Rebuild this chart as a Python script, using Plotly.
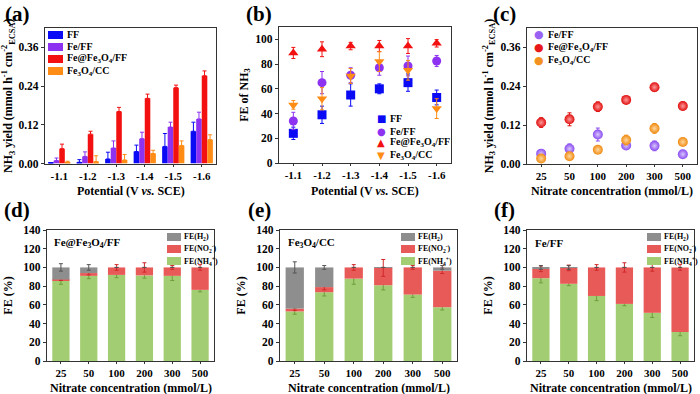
import plotly.graph_objects as go

W, H = 700, 394
def px(x): return x / W
def py(y): return 1 - y / H

potentials = ["-1.1", "-1.2", "-1.3", "-1.4", "-1.5", "-1.6"]
concentrations = ["25", "50", "100", "200", "300", "500"]

# (a) NH3 yield vs potential
yield_FF = [0.002, 0.004, 0.014, 0.037, 0.053, 0.100]
yield_FF_err = [0.000, 0.008, 0.021, 0.020, 0.040, 0.028]
yield_FeFF = [0.009, 0.022, 0.048, 0.077, 0.113, 0.138]
yield_FeFF_err = [0.008, 0.014, 0.022, 0.020, 0.015, 0.021]
yield_FeFe3O4 = [0.046, 0.091, 0.161, 0.202, 0.235, 0.272]
yield_FeFe3O4_err = [0.014, 0.009, 0.013, 0.013, 0.008, 0.015]
yield_Fe3O4CC = [0.004, 0.006, 0.011, 0.031, 0.056, 0.074]
yield_Fe3O4CC_err = [0.003, 0.018, 0.017, 0.010, 0.014, 0.015]

# (b) FE of NH3 vs potential
fe_FF = [24, 39, 55, 60, 65, 53]
fe_FF_err = [5, 7, 9, 4, 7, 6]
fe_FeFF = [34, 65, 71, 77, 78.5, 82.5]
fe_FeFF_err = [7, 9, 6, 6, 8, 4.5]
fe_FeFe3O4 = [89, 92, 94.6, 94.6, 94.6, 96.8]
fe_FeFe3O4_err = [4.5, 6, 3, 4.5, 6, 3]
fe_Fe3O4CC = [47, 52, 70.4, 82, 75, 44]
fe_Fe3O4CC_err = [3.5, 9, 6, 8, 8, 8]

# (c) NH3 yield vs nitrate concentration
cy_FeFF = [0.032, 0.047, 0.091, 0.057, 0.056, 0.030]
cy_FeFF_err = [0.010, 0.015, 0.020, 0.010, 0.015, 0.006]
cy_FeFe3O4 = [0.128, 0.138, 0.177, 0.198, 0.237, 0.179]
cy_FeFe3O4_err = [0.015, 0.020, 0.015, 0.010, 0.012, 0.012]
cy_Fe3O4CC = [0.017, 0.024, 0.044, 0.074, 0.110, 0.068]
cy_Fe3O4CC_err = [0.010, 0.010, 0.010, 0.015, 0.015, 0.008]

# (d) Fe@Fe3O4/FF FE distribution
d_NH4 = [86, 91, 92, 91.5, 91, 76]
d_NH4_err = [4, 3, 3, 3, 5, 2]
d_NO2 = [1, 3, 8, 8.5, 9, 24]
d_NO2_err = [1, 2, 3, 5, 2, 3]
d_H2 = [13, 6, 0, 0, 0, 0]
d_H2_err = [4, 3, 0, 0, 0, 0]

# (e) Fe3O4/CC FE distribution
e_NH4 = [53, 73.5, 88, 81, 71, 57.5]
e_NH4_err = [3, 4, 6, 5, 3, 3]
e_NO2 = [3, 5.5, 12, 18.5, 29, 39]
e_NO2_err = [2, 3, 3, 9, 2, 3]
e_H2 = [44, 21, 0, 0.5, 0, 3.5]
e_H2_err = [6, 2, 0, 0, 0, 2]

# (f) Fe/FF FE distribution
f_NH4 = [88.5, 82.5, 69.5, 61, 51.5, 31]
f_NH4_err = [5, 2, 5, 2, 5, 4]
f_NO2 = [10, 17, 30.5, 39, 48.5, 69]
f_NO2_err = [3, 3, 3, 5, 4, 3]
f_H2 = [1.5, 0.5, 0, 0, 0, 0]
f_H2_err = [2, 2, 0, 0, 0, 0]

BLUE = "#0A0AF5"
PURPLE = "#8C32F0"
RED = "#F21010"
ORANGE = "#FF8C14"
GREEN = "#A3CD72"
LRED = "#E85A58"
GRAY = "#8E8E8E"
SERIF = "Liberation Serif"

fig = go.Figure()

# ---------- (a) grouped bars ----------
for name, vals, err, col in [
    ("FF", yield_FF, yield_FF_err, BLUE),
    ("Fe/FF", yield_FeFF, yield_FeFF_err, PURPLE),
    ("Fe@Fe3O4/FF", yield_FeFe3O4, yield_FeFe3O4_err, RED),
    ("Fe3O4/CC", yield_Fe3O4CC, yield_Fe3O4CC_err, ORANGE),
]:
    fig.add_trace(go.Bar(
        x=potentials, y=vals, name=name, marker=dict(color=col, line=dict(width=0)),
        error_y=dict(type="data", array=err, arrayminus=[0] * len(err), symmetric=False,
                     color=col, thickness=1, width=2),
        xaxis="x", yaxis="y", showlegend=False))

# ---------- (b) scatter ----------
for name, vals, err, col, sym in [
    ("FF", fe_FF, fe_FF_err, BLUE, "square"),
    ("Fe/FF", fe_FeFF, fe_FeFF_err, PURPLE, "circle"),
    ("Fe@Fe3O4/FF", fe_FeFe3O4, fe_FeFe3O4_err, RED, "triangle-up"),
    ("Fe3O4/CC", fe_Fe3O4CC, fe_Fe3O4CC_err, ORANGE, "triangle-down"),
]:
    fig.add_trace(go.Scatter(
        x=potentials, y=vals, mode="markers", name=name,
        marker=dict(color=col, symbol=sym, size=9, line=dict(width=0)),
        error_y=dict(type="data", array=err, color=col, thickness=1, width=2),
        xaxis="x2", yaxis="y2", showlegend=False))

# ---------- (c) scatter spheres ----------
for name, vals, err, col, hi in [
    ("Fe/FF", cy_FeFF, cy_FeFF_err, "#8A4CF0", "#D9C8FF"),
    ("Fe@Fe3O4/FF", cy_FeFe3O4, cy_FeFe3O4_err, "#E00E0E", "#FF9A9A"),
    ("Fe3O4/CC", cy_Fe3O4CC, cy_Fe3O4CC_err, "#F08A10", "#FFD8A0"),
]:
    fig.add_trace(go.Scatter(
        x=concentrations, y=vals, mode="markers", name=name,
        marker=dict(color=col, symbol="circle", size=10, line=dict(width=0),
                    gradient=dict(type="radial", color=hi)),
        error_y=dict(type="data", array=err, color=col, thickness=1, width=2),
        xaxis="x3", yaxis="y3", showlegend=False))

# ---------- (d)-(f) stacked bars ----------
def add_stack(nh4, nh4e, no2, no2e, h2, h2e, xa, ya, grp):
    base_no2 = [a for a in nh4]
    base_h2 = [a + b for a, b in zip(nh4, no2)]
    for name, vals, err, base, col, ecol in [
        ("FE(NH4+)", nh4, nh4e, [0] * len(nh4), GREEN, "#6E9E3C"),
        ("FE(NO2-)", no2, no2e, base_no2, LRED, "#D02828"),
        ("FE(H2)", h2, h2e, base_h2, GRAY, "#555555"),
    ]:
        fig.add_trace(go.Bar(
            x=concentrations, y=vals, base=base, name=name, offsetgroup=grp, width=0.62,
            marker=dict(color=col, line=dict(width=0)),
            error_y=dict(type="data", array=err, color=ecol, thickness=1, width=2),
            xaxis=xa, yaxis=ya, showlegend=False))

add_stack(d_NH4, d_NH4_err, d_NO2, d_NO2_err, d_H2, d_H2_err, "x4", "y4", "d")
add_stack(e_NH4, e_NH4_err, e_NO2, e_NO2_err, e_H2, e_H2_err, "x5", "y5", "e")
add_stack(f_NH4, f_NH4_err, f_NO2, f_NO2_err, f_H2, f_H2_err, "x6", "y6", "f")

# ---------- axes ----------
ytickfont = dict(family=SERIF, size=11.5, color="black", weight="bold")
xtickfont = dict(family=SERIF, size=11, color="black", weight="bold")
titlefont = dict(family=SERIF, size=12, color="black", weight="bold")

def xax(x0, x1, y_anchor):
    return dict(domain=[px(x0), px(x1)], anchor=y_anchor, type="category",
                range=[-0.5, 5.5], showline=True, mirror=True, linecolor="#333",
                linewidth=1.3, ticks="outside", ticklen=2, tickcolor="#333",
                tickfont=xtickfont, showgrid=False, zeroline=False, automargin=False)

def yax(y0, y1, x_anchor, title, rng, dtick, fmt, standoff=4):
    return dict(domain=[py(y1), py(y0)], anchor=x_anchor, range=rng, dtick=dtick,
                tickformat=fmt, showline=True, mirror=True, linecolor="#333",
                linewidth=1.3, ticks="outside", ticklen=3, tickcolor="#333",
                tickfont=ytickfont, showgrid=False, zeroline=False, automargin=False,
                title=dict(text=title, font=titlefont, standoff=standoff))

yield_title = "NH<sub>3</sub> yield (mmol h<sup>-1</sup> cm<sup>-2</sup><sub>ECSA</sub>)"
pot_title = "Potential (V <i>vs.</i> SCE)"
conc_title = "Nitrate concentration (mmol/L)"

panels_x = [(45, 216), (279, 451), (527, 697), (47, 214), (280, 457), (527, 694)]

layout_axes = dict(
    xaxis=xax(*panels_x[0], "y"),
    yaxis=yax(28, 163.5, "x", yield_title, [0, 0.42], 0.12, ".2f"),
    xaxis2=xax(*panels_x[1], "y2"),
    yaxis2=yax(27, 163, "x2", "FE of NH<sub>3</sub>", [0, 110], 20, "d"),
    xaxis3=xax(*panels_x[2], "y3"),
    yaxis3=yax(28, 164, "x3", yield_title, [0, 0.42], 0.12, ".2f"),
    xaxis4=xax(*panels_x[3], "y4"),
    yaxis4=yax(230, 361, "x4", "FE (%)", [0, 140], 20, "d", 8),
    xaxis5=xax(*panels_x[4], "y5"),
    yaxis5=yax(230, 361, "x5", "FE (%)", [0, 140], 20, "d", 8),
    xaxis6=xax(*panels_x[5], "y6"),
    yaxis6=yax(230, 361, "x6", "FE (%)", [0, 140], 20, "d", 8),
)

annotations = []
shapes = []

# x-axis titles
for (x0, x1), ttl, yc in zip(panels_x,
                             [pot_title, pot_title, conc_title, conc_title, conc_title, conc_title],
                             [191, 191, 191, 388, 388, 388]):
    annotations.append(dict(text=ttl, x=px((x0 + x1) / 2), y=py(yc), xref="paper", yref="paper",
                            showarrow=False, xanchor="center", yanchor="middle",
                            font=titlefont))

# panel labels
for lab, x, y in [("(a)", 17, 14), ("(b)", 259, 14), ("(c)", 504, 14),
                  ("(d)", 17, 210), ("(e)", 259, 210), ("(f)", 504, 210)]:
    annotations.append(dict(text=lab, x=px(x), y=py(y), xref="paper", yref="paper",
                            showarrow=False, xanchor="center", yanchor="middle",
                            font=dict(family=SERIF, size=21, color="black", weight="bold")))

def leg_text(x, y, text, size):
    annotations.append(dict(text=text, x=px(x), y=py(y), xref="paper", yref="paper",
                            showarrow=False, xanchor="left", yanchor="middle",
                            font=dict(family=SERIF, size=size, color="black", weight="bold")))

def leg_rect(x0, x1, y, h, col):
    shapes.append(dict(type="rect", xref="paper", yref="paper",
                       x0=px(x0), x1=px(x1), y0=py(y + h / 2), y1=py(y - h / 2),
                       fillcolor=col, line=dict(width=0)))

def leg_glyph(x, y, glyph, col, size):
    annotations.append(dict(text=glyph, x=px(x), y=py(y), xref="paper", yref="paper",
                            showarrow=False, xanchor="center", yanchor="middle",
                            font=dict(family="DejaVu Sans", size=size, color=col)))

# (a) legend
for i, (lab, col) in enumerate([("FF", BLUE), ("Fe/FF", PURPLE),
                                 ("Fe@Fe<sub>3</sub>O<sub>4</sub>/FF", RED),
                                 ("Fe<sub>3</sub>O<sub>4</sub>/CC", ORANGE)]):
    yy = 35 + 12 * i
    leg_rect(48, 63, yy, 8, col)
    leg_text(65, yy, lab, 10)

# (b) legend
for i, (lab, col, g) in enumerate([("FF", BLUE, "■"), ("Fe/FF", PURPLE, "●"),
                                    ("Fe@Fe<sub>3</sub>O<sub>4</sub>/FF", RED, "▲"),
                                    ("Fe<sub>3</sub>O<sub>4</sub>/CC", ORANGE, "▼")]):
    yy = 119 + 12 * i
    leg_glyph(381, yy, g, col, 10)
    leg_text(388, yy, lab, 10)

# (c) legend
for i, (lab, col) in enumerate([("Fe/FF", "#9A62F2"),
                                 ("Fe@Fe<sub>3</sub>O<sub>4</sub>/FF", "#E81818"),
                                 ("Fe<sub>3</sub>O<sub>4</sub>/CC", "#F39220")]):
    yy = 34 + 13.5 * i
    leg_glyph(539, yy, "●", col, 11)
    leg_text(546, yy, lab, 10)

# (d)-(f) legends and inner titles
for sx, tx, ttl in [(167, 52, "Fe@Fe<sub>3</sub>O<sub>4</sub>/FF"),
                    (401, 286, "Fe<sub>3</sub>O<sub>4</sub>/CC"),
                    (647, 533, "Fe/FF")]:
    for i, (lab, col) in enumerate([("FE(H<sub>2</sub>)", GRAY),
                                     ("FE(NO<sub>2</sub><sup>-</sup>)", LRED),
                                     ("FE(NH<sub>4</sub><sup>+</sup>)", GREEN)]):
        yy = 237 + 12 * i
        leg_rect(sx, sx + 14, yy, 8, col)
        leg_text(sx + 15, yy, lab, 8)
    leg_text(tx, 243, ttl, 11)

fig.update_layout(
    width=W, height=H, margin=dict(l=0, r=0, t=0, b=0),
    paper_bgcolor="white", plot_bgcolor="white",
    barmode="group", bargap=0.22, bargroupgap=0.0,
    showlegend=False, annotations=annotations, shapes=shapes,
    **layout_axes)

fig.write_html("out.html", config={"displayModeBar": False},
               post_script="document.body.style.margin='0px';document.body.style.overflow='hidden';")
